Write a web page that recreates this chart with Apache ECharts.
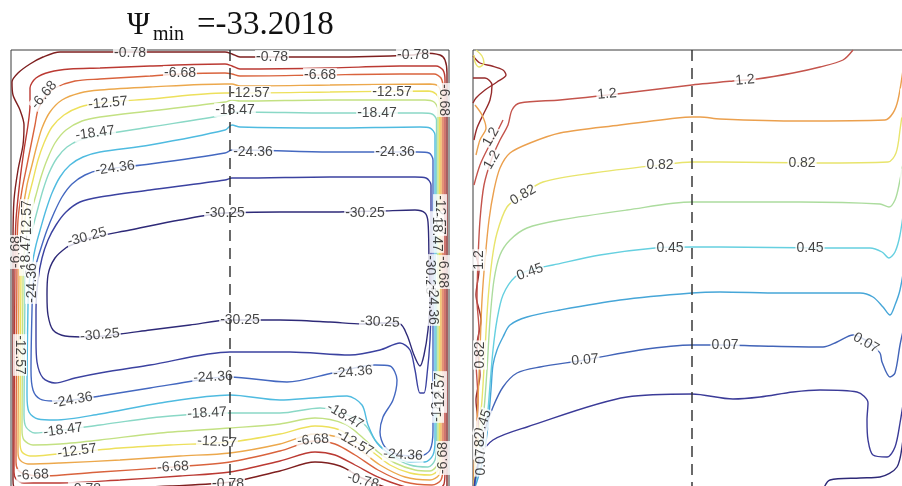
<!DOCTYPE html>
<html><head><meta charset="utf-8">
<script src="https://cdn.jsdelivr.net/npm/echarts@6/dist/echarts.min.js"></script>
<style>html,body{margin:0;padding:0;background:#fff;}#chart{width:902px;height:486px;}</style>
</head><body><div id="chart"></div>
<script>
// ---------- panel domain (x across, y depth from top) ----------
const panelW = 438, panelH = 448;

// ---------- Left panel: streamfunction contours ----------
const psiLevels = [-0.78, -3.73, -6.68, -9.62, -12.57, -15.52, -18.47, -21.41, -24.36, -27.30, -30.25];
const psiC0 = [[2,190],[3,150],[7,120],[12,95],[13,75],[9,60],[2,45],[1,32],[7,23],[19,14],[32,7],[49,2],[89,2],[139,2],[214,2],[221,4],[229,7],[319,7],[402,5],[412,3],[429,5],[434,10],[436,23],[436,200],[436,300],[436,420],[436,438],[429,445],[404,444],[374,437],[351,428],[329,416],[304,412],[269,421],[219,432],[159,436],[89,439],[49,441],[11,440],[3,437],[2,430],[2,190]];
const psiC1 = [[4,210],[5,170],[9,130],[13,100],[17,75],[19,55],[19,38],[25,28],[39,22],[59,19],[89,18],[139,16],[214,14],[221,16],[229,19],[319,18],[389,16],[425,16],[432,20],[434,30],[434,200],[434,300],[434,420],[433,434],[424,440],[399,438],[369,428],[344,415],[324,405],[304,402],[269,411],[219,422],[169,426],[109,430],[49,433],[13,433],[5,429],[3,422],[4,210]];
const psiC2 = [[6,210],[7,170],[11,140],[16,115],[20,95],[24,75],[27,60],[34,47],[44,38],[64,31],[89,29],[139,26],[169,24],[214,23],[221,24],[229,26],[309,25],[389,24],[423,24],[430,28],[432,38],[432,200],[432,300],[432,415],[430,430],[421,435],[394,432],[367,420],[344,405],[324,394],[304,391],[269,401],[219,412],[162,417],[89,422],[29,426],[14,424],[7,420],[5,412],[6,210]];
const psiC3 = [[8,220],[9,190],[12,160],[16,135],[21,115],[26,95],[31,78],[39,62],[51,50],[69,43],[89,40],[139,37],[214,34],[221,34],[229,36],[319,35],[419,34],[427,36],[430,45],[430,200],[430,300],[430,410],[428,425],[419,430],[394,427],[369,415],[349,400],[329,388],[304,384],[269,394],[219,403],[169,406],[109,410],[49,413],[17,414],[9,410],[7,402],[8,220]];
const psiC4 = [[10,220],[11,195],[14,170],[17,150],[22,130],[27,110],[33,93],[41,77],[53,65],[69,57],[89,53],[139,49],[214,43],[229,43],[319,42],[417,41],[425,44],[428.5,52],[428.5,200],[428.5,300],[428.5,405],[427,420],[419,425],[399,423],[379,415],[359,400],[344,391],[329,380],[304,376],[269,384],[219,392],[159,395],[109,398],[66,402],[19,406],[11,402],[9,392],[10,220]];
const psiC5 = [[12,230],[13,205],[16,182],[20,163],[25,145],[30,127],[36,110],[44,93],[55,80],[71,71],[89,67],[139,61],[214,52],[221,50],[229,51],[319,50],[414,50],[423,52],[427,60],[427,200],[427,300],[427,400],[426,415],[419,421],[404,420],[384,413],[367,402],[351,387],[334,374],[304,368],[269,374],[219,378],[149,383],[89,390],[49,394],[22,395],[13,390],[11,380],[12,230]];
const psiC6 = [[14,240],[15,215],[18,195],[22,177],[27,158],[32,140],[38,123],[46,108],[56,97],[69,90],[89,85],[139,77],[214,65],[221,62],[229,62],[319,63],[411,63],[421,64],[425.5,70],[425.5,200],[425.5,300],[425.5,395],[424,410],[417,417],[399,415],[379,405],[364,390],[354,375],[334,364],[309,358],[269,363],[219,363],[149,367],[89,375],[52,380],[24,383],[15,377],[13,365],[14,240]];
const psiC7 = [[17,255],[18,235],[21,215],[25,195],[30,177],[35,160],[41,143],[49,127],[59,115],[72,107],[89,102],[139,95],[214,80],[221,75],[229,77],[319,78],[409,77],[419,78],[424,85],[424,200],[424,300],[424,390],[422,405],[414,412],[399,412],[381,405],[366,393],[357,375],[351,355],[336,346],[302,348],[269,350],[219,345],[149,353],[89,364],[44,370],[27,369],[18,362],[16,345],[17,255]];
const psiC8 = [[21,260],[22,235],[25,215],[30,198],[36,180],[43,163],[51,147],[61,134],[74,125],[89,120],[139,114],[214,103],[221,100],[229,100],[319,102],[407,102],[418,103],[422,110],[422,200],[422,300],[422,380],[419,400],[409,406],[389,405],[374,397],[369,382],[372,367],[382,350],[386,330],[379,316],[364,315],[322,323],[276,332],[219,327],[202,328],[139,338],[89,346],[62,350],[42,351],[29,349],[22,340],[20,320],[21,260]];
const psiC9 = [[25,290],[25,260],[27,230],[31,208],[37,190],[45,175],[55,162],[69,152],[89,147],[139,140],[214,130],[221,128],[229,128],[319,127],[404,127],[415,128],[420,135],[420,180],[420,250],[419,290],[416,325],[413,343],[409,343],[404,320],[399,300],[389,293],[369,300],[339,305],[279,302],[219,302],[139,315],[89,323],[64,328],[44,333],[32,328],[26,312],[25,290]];
const psiC10 = [[56,197],[79,188],[119,180],[169,170],[214,163],[269,162],[322,162],[369,161],[404,160],[414,163],[417,172],[418,210],[419,250],[417,280],[413,305],[409,316],[403,305],[396,285],[389,274],[369,273],[351,274],[319,272],[269,270],[219,270],[179,275],[139,280],[109,284],[79,287],[54,286],[42,280],[37,265],[36,245],[37,225],[44,208],[56,197]];
const psiContours = [psiC0, psiC1, psiC2, psiC3, psiC4, psiC5, psiC6, psiC7, psiC8, psiC9, psiC10];

const psiLabels = [
 [119,3,'-0.78'],[261,7,'-0.78'],[402,5,'-0.78'],
 [169,23,'-6.68'],[309,25,'-6.68'],[33,45,'-6.68'],
 [97,53,'-12.57'],[239,43,'-12.57'],[381,42,'-12.57'],
 [84,83,'-18.47'],[224,60,'-18.47'],[366,63,'-18.47'],
 [104,118,'-24.36'],[242,102,'-24.36'],[384,102,'-24.36'],
 [76,187,'-30.25'],[214,163,'-30.25'],[354,163,'-30.25'],
 [89,285,'-30.25'],[229,270,'-30.25'],[369,272,'-30.25'],[419,225,'-30.25'],
 [433,50,'-6.68'],[429,165,'-12.57'],[426,182,'-18.47'],[432,222,'-6.68'],[422,255,'-24.36'],
 [426,352,'-18.47'],[429,342,'-12.57'],[432,408,'-6.68'],
 [16,170,'-12.57'],[5,202,'-6.68'],[15,205,'-18.47'],[21,233,'-24.36'],[9,305,'-12.57'],
 [62,350,'-24.36'],[52,380,'-18.47'],[66,401,'-12.57'],[22,425,'-6.68'],[74,439,'-0.78'],
 [202,327,'-24.36'],[196,363,'-18.47'],[206,392,'-12.57'],[162,417,'-6.68'],[217,434,'-0.78'],
 [342,322,'-24.36'],[334,366,'-18.47'],[344,393,'-12.57'],[302,390,'-6.68'],[352,431,'-0.78'],[392,405,'-24.36']
];
const psiLabelAngles = [0,0,0, 0,0,50, 5,0,0, 8,0,0, 8,0,0, 15,0,0, 5,0,-3,-90, -90,-90,-90,-90,-90, 90,90,90, 90,90,90,90,-90, 10,8,8,3,0, 3,3,-3,3,0, 5,-30,-30,5,-15,-3];

// ---------- Right panel: temperature contours ----------
const thetaLevels = [1.39, 1.2, 1.01, 0.82, 0.63, 0.45, 0.26, 0.07, -0.12, -0.31];
const thC139a = [[0,6],[7,13],[19,16],[30,20],[33,25],[24,32],[12,40],[3,48],[0,53]];
const thC139b = [[0,28],[12,28],[19,35],[17,50],[10,65],[4,78],[1,90]];
const thC139c = [[1,200],[6,220],[3,245],[8,270],[4,295],[7,325],[3,350],[6,380],[2,410],[1,430]];
const thC120 = [[380,0],[370,10],[347,17],[320,23],[284,29],[260,31],[219,35],[144,44],[87,50],[47,53],[39,60],[35,75],[27,90],[19,108],[11,135],[7,170],[5,210],[4,250],[6,280],[3,310],[5,350],[3,390],[2,420],[1,440]];
const thC120b = [[1,135],[7,115],[15,98],[24,82],[30,70]];
const thC101 = [[432,0],[430,20],[425,50],[420,63],[412,70],[327,71],[247,69],[227,67],[219,67],[204,68],[147,75],[87,83],[57,93],[37,103],[27,118],[21,140],[16,170],[12,210],[9,250],[7,300],[5,350],[3,390],[1,420],[1,440]];
const thC101b = [[2,55],[9,65],[13,78],[7,90],[3,105]];
const thC082 = [[434,0],[432,40],[427,80],[423,103],[415,112],[344,113],[247,112],[219,112],[187,115],[120,123],[70,132],[49,145],[34,157],[24,183],[19,210],[15,250],[12,300],[9,350],[5,390],[2,420],[1,440]];
const thC082b = [[3,0],[9,6],[11,13],[6,17],[2,12],[1,5]];
const thC063 = [[436,50],[432,100],[426,135],[422,150],[416,157],[407,154],[327,152],[247,152],[219,152],[154,160],[87,170],[54,178],[37,190],[27,205],[21,230],[17,270],[14,320],[11,360],[7,395],[3,425],[1,440]];
const thC045 = [[436,110],[432,150],[427,185],[422,202],[416,208],[409,202],[397,198],[352,198],[247,197],[219,197],[182,198],[127,205],[80,215],[57,220],[42,227],[30,245],[24,270],[20,300],[17,335],[14,370],[9,400],[4,425],[1,440]];
const thC026 = [[436,170],[432,210],[427,240],[422,255],[417,265],[410,257],[400,247],[387,243],[307,243],[247,242],[219,243],[147,250],[87,260],[54,267],[37,275],[30,287],[24,300],[20,315],[18,340],[15,375],[11,405],[5,428],[1,440]];
const thC007 = [[436,230],[432,270],[427,295],[422,323],[417,327],[409,312],[407,303],[397,293],[380,285],[364,292],[350,297],[287,296],[247,295],[219,295],[167,300],[112,310],[67,317],[44,323],[30,337],[20,357],[12,380],[7,405],[3,425],[1,440]];
const thCm012 = [[436,300],[432,340],[427,373],[422,397],[414,407],[400,405],[395,390],[394,370],[395,353],[384,342],[347,340],[320,342],[287,347],[260,349],[219,344],[154,347],[54,377],[20,390],[7,407],[2,430],[1,440]];
const thCm031 = [[350,440],[357,430],[387,428],[407,427],[424,417],[430,390],[436,350]];
const thetaContours = [
  [thC139a,0],[thC139b,0],[thC139c,0],[thC120,1],[thC120b,1],[thC101,2],[thC101b,2],[thC082,3],[thC082b,3],
  [thC063,4],[thC045,5],[thC026,6],[thC007,7],[thCm012,8],[thCm031,9]
];
const thetaLabels = [
 [272,30,'1.2'],[134,44,'1.2'],[18,87,'1.2'],[19,110,'1.2'],
 [187,115,'0.82'],[329,113,'0.82'],[50,145,'0.82'],
 [197,198,'0.45'],[337,198,'0.45'],[57,222,'0.45'],
 [112,310,'0.07'],[252,295,'0.07'],[393,293,'0.07'],
 [6,210,'1.2'],[7,305,'0.82'],[10,373,'0.45'],[7,395,'0.82'],[8,412,'0.07'],
 [434,53,'0.82'],[434,133,'0.45']
];
const thetaLabelAngles = [5,5,60,60, 0,0,30, 0,0,20, 5,0,-30, 90,90,70,90,90, -90,-90];

// ---------- styles ----------
const psiColors = ['#7e1f1f','#bb3a33','#d9633d','#eca84c','#ede05c','#c3e183','#8ad8c6','#4fbbe0','#4468c0','#3b42a0','#2e2a78'];
const thetaColors = ['#962b2b','#c4544c','#eba04e','#e8e46c','#acdc9e','#66d0e0','#46a6d8','#4264b8','#3b3b98','#2e2a78'];
const labelFont = {fontFamily:'Liberation Sans, Arial, sans-serif', fontSize:14, color:'#151515',
  backgroundColor:'#fff', padding:[0,1], lineHeight:14};

const series = [];
psiContours.forEach((d,i)=>series.push({
  type:'line', xAxisIndex:0, yAxisIndex:0, data:d, smooth:0.3, symbol:'none', silent:true, z:2,
  lineStyle:{color:psiColors[i], width:1.4}
}));
thetaContours.forEach(([d,k])=>series.push({
  type:'line', xAxisIndex:1, yAxisIndex:1, data:d, smooth:0.3, symbol:'none', silent:true, z:2,
  lineStyle:{color:thetaColors[k], width:1.4}
}));
function labelSeries(labels, angles, idx){
  return {type:'scatter', xAxisIndex:idx, yAxisIndex:idx, symbolSize:1, silent:true, z:5,
    itemStyle:{color:'rgba(0,0,0,0)'},
    data: labels.map((p,i)=>({value:[p[0],p[1]], name:p[2], label:{rotate:angles[i]}})),
    label:Object.assign({show:true, position:'inside', formatter:'{b}'}, labelFont)};
}
series.push(labelSeries(psiLabels, psiLabelAngles, 0));
series.push(labelSeries(thetaLabels, thetaLabelAngles, 1));
[0,1].forEach(idx=>series.push({
  type:'line', xAxisIndex:idx, yAxisIndex:idx, data:[[panelW/2,0],[panelW/2,panelH]], symbol:'none', silent:true, z:6,
  lineStyle:{color:'#2a2a2a', width:1.4, type:[11,7]}
}));

const serif = 'Liberation Serif, Times New Roman, serif';
const option = {
  animation:false,
  backgroundColor:'#fff',
  title:[
    {text:'Ψ', left:127, top:10, padding:0, textStyle:{fontFamily:serif, fontSize:31, fontWeight:'normal', color:'#111'}},
    {text:'min', left:153, top:25, padding:0, textStyle:{fontFamily:serif, fontSize:20, fontWeight:'normal', color:'#111'}},
    {text:'=-33.2018', left:197, top:9, padding:0, textStyle:{fontFamily:serif, fontSize:33, fontWeight:'normal', color:'#111'}}
  ],
  grid:[
    {left:11, top:50, width:panelW, height:panelH, show:true, borderColor:'#3a3a3a', borderWidth:1, backgroundColor:'#fff', outerBoundsMode:'none', containLabel:false},
    {left:473, top:50, width:panelW, height:panelH, show:true, borderColor:'#3a3a3a', borderWidth:1, backgroundColor:'#fff', outerBoundsMode:'none', containLabel:false}
  ],
  xAxis:[
    {gridIndex:0, type:'value', min:0, max:panelW, show:false},
    {gridIndex:1, type:'value', min:0, max:panelW, show:false}
  ],
  yAxis:[
    {gridIndex:0, type:'value', min:0, max:panelH, inverse:true, show:false},
    {gridIndex:1, type:'value', min:0, max:panelH, inverse:true, show:false}
  ],
  series: series
};
const chart = echarts.init(document.getElementById('chart'), null, {renderer:'canvas'});
chart.setOption(option);
</script></body></html>
